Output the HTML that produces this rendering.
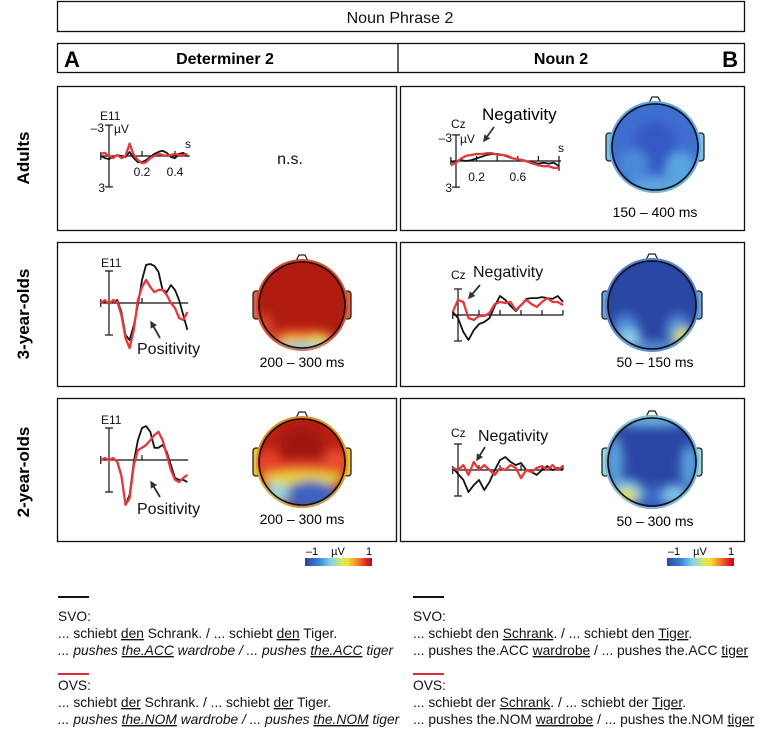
<!DOCTYPE html>
<html><head><meta charset="utf-8">
<style>
html,body{margin:0;padding:0;background:#fff;}
svg{display:block;font-family:"Liberation Sans",sans-serif;}
.t{font-size:12px;fill:#111;}
.big{font-size:16px;fill:#111;}
.leg{font-size:13.8px;fill:#111;}
</style></head>
<body>
<svg id="fig" width="759" height="730" viewBox="0 0 759 730" xmlns="http://www.w3.org/2000/svg">
<defs>
<linearGradient id="cbar" x1="0" x2="1" y1="0" y2="0">
<stop offset="0" stop-color="#2a45a0"/><stop offset="0.2" stop-color="#3b7fd6"/><stop offset="0.38" stop-color="#80d2ee"/><stop offset="0.55" stop-color="#dbe860"/><stop offset="0.65" stop-color="#f6dc2c"/><stop offset="0.8" stop-color="#f07a2c"/><stop offset="0.92" stop-color="#e02222"/><stop offset="1" stop-color="#b81010"/>
</linearGradient>
<filter id="blur" x="-50%" y="-50%" width="200%" height="200%"><feGaussianBlur stdDeviation="5"/></filter>
<marker id="ah" viewBox="0 0 10 10" refX="8" refY="5" markerWidth="4" markerHeight="4" orient="auto"><path d="M0,0 L10,5 L0,10 z" fill="#333"/></marker>
</defs>

<rect x="57.5" y="1.5" width="687" height="30" fill="none" stroke="#111" stroke-width="1.3"/>
<text x="400" y="23" text-anchor="middle" class="big">Noun Phrase 2</text>
<rect x="57.5" y="43.5" width="687" height="29" fill="none" stroke="#111" stroke-width="1.3"/>
<line x1="398" y1="43.5" x2="398" y2="72.5" stroke="#111" stroke-width="1.3"/>
<text x="64" y="67" style="font-size:22px;font-weight:bold">A</text>
<text x="225" y="64" text-anchor="middle" style="font-size:16px;font-weight:bold">Determiner 2</text>
<text x="561" y="64" text-anchor="middle" style="font-size:16px;font-weight:bold">Noun 2</text>
<text x="738" y="67" text-anchor="end" style="font-size:22px;font-weight:bold">B</text>

<rect x="57.5" y="86.5" width="339" height="144" fill="none" stroke="#111" stroke-width="1.3"/>
<rect x="400.5" y="86.5" width="344" height="144" fill="none" stroke="#111" stroke-width="1.3"/>
<rect x="57.5" y="242.5" width="339" height="144" fill="none" stroke="#111" stroke-width="1.3"/>
<rect x="400.5" y="242.5" width="344" height="144" fill="none" stroke="#111" stroke-width="1.3"/>
<rect x="57.5" y="398.5" width="339" height="143" fill="none" stroke="#111" stroke-width="1.3"/>
<rect x="400.5" y="398.5" width="344" height="143" fill="none" stroke="#111" stroke-width="1.3"/>

<text transform="translate(29,158) rotate(-90)" text-anchor="middle" style="font-size:17px;font-weight:bold">Adults</text>
<text transform="translate(29,314) rotate(-90)" text-anchor="middle" style="font-size:17px;font-weight:bold">3-year-olds</text>
<text transform="translate(29,472) rotate(-90)" text-anchor="middle" style="font-size:17px;font-weight:bold">2-year-olds</text>

<text x="290" y="164" text-anchor="middle" class="big">n.s.</text>

<g id="charts"></g>
<g id="maps"></g>

<text x="137" y="354" class="big">Positivity</text>
<line x1="160" y1="338" x2="151" y2="322" stroke="#333" stroke-width="1.8" marker-end="url(#ah)"/>
<text x="137" y="514" class="big">Positivity</text>
<line x1="160" y1="497" x2="151" y2="482" stroke="#333" stroke-width="1.8" marker-end="url(#ah)"/>
<text x="482" y="120" style="font-size:17px">Negativity</text>
<line x1="494" y1="127" x2="484" y2="141" stroke="#333" stroke-width="1.8" marker-end="url(#ah)"/>
<text x="473" y="277" class="big">Negativity</text>
<line x1="480" y1="285" x2="469" y2="298" stroke="#333" stroke-width="1.8" marker-end="url(#ah)"/>
<text x="478" y="441" class="big">Negativity</text>
<line x1="485" y1="447" x2="477" y2="460" stroke="#333" stroke-width="1.8" marker-end="url(#ah)"/>

<text x="302" y="367" text-anchor="middle" style="font-size:14px">200 – 300 ms</text>
<text x="302" y="524" text-anchor="middle" style="font-size:14px">200 – 300 ms</text>
<text x="655" y="217" text-anchor="middle" style="font-size:14px">150 – 400 ms</text>
<text x="655" y="367" text-anchor="middle" style="font-size:14px">50 – 150 ms</text>
<text x="655" y="526" text-anchor="middle" style="font-size:14px">50 – 300 ms</text>

<g>
<rect x="305" y="558" width="67" height="8" fill="url(#cbar)"/>
<text x="312" y="555" text-anchor="middle" style="font-size:11px">–1</text>
<text x="338" y="555" text-anchor="middle" style="font-size:11px">µV</text>
<text x="369" y="555" text-anchor="middle" style="font-size:11px">1</text>
</g>
<g>
<rect x="667" y="558" width="67" height="8" fill="url(#cbar)"/>
<text x="674" y="555" text-anchor="middle" style="font-size:11px">–1</text>
<text x="700" y="555" text-anchor="middle" style="font-size:11px">µV</text>
<text x="731" y="555" text-anchor="middle" style="font-size:11px">1</text>
</g>

<g>
<line x1="58" y1="597" x2="89" y2="597" stroke="#111" stroke-width="2"/>
<text x="58" y="621" class="leg">SVO:</text>
<text x="58" y="638" class="leg">... schiebt <tspan text-decoration="underline">den</tspan> Schrank. / ... schiebt <tspan text-decoration="underline">den</tspan> Tiger.</text>
<text x="58" y="655" class="leg" font-style="italic">... pushes <tspan text-decoration="underline">the.ACC</tspan> wardrobe / ... pushes <tspan text-decoration="underline">the.ACC</tspan> tiger</text>
<line x1="58" y1="674" x2="89" y2="674" stroke="#e0283a" stroke-width="2"/>
<text x="58" y="690" class="leg">OVS:</text>
<text x="58" y="707" class="leg">... schiebt <tspan text-decoration="underline">der</tspan> Schrank. / ... schiebt <tspan text-decoration="underline">der</tspan> Tiger.</text>
<text x="58" y="724" class="leg" font-style="italic">... pushes <tspan text-decoration="underline">the.NOM</tspan> wardrobe / ... pushes <tspan text-decoration="underline">the.NOM</tspan> tiger</text>
</g>
<g>
<line x1="413" y1="597" x2="444" y2="597" stroke="#111" stroke-width="2"/>
<text x="413" y="621" class="leg">SVO:</text>
<text x="413" y="638" class="leg">... schiebt den <tspan text-decoration="underline">Schrank</tspan>. / ... schiebt den <tspan text-decoration="underline">Tiger</tspan>.</text>
<text x="413" y="655" class="leg">... pushes the.ACC <tspan text-decoration="underline">wardrobe</tspan> / ... pushes the.ACC <tspan text-decoration="underline">tiger</tspan></text>
<line x1="413" y1="674" x2="444" y2="674" stroke="#e0283a" stroke-width="2"/>
<text x="413" y="690" class="leg">OVS:</text>
<text x="413" y="707" class="leg">... schiebt der <tspan text-decoration="underline">Schrank</tspan>. / ... schiebt der <tspan text-decoration="underline">Tiger</tspan>.</text>
<text x="413" y="724" class="leg">... pushes the.NOM <tspan text-decoration="underline">wardrobe</tspan> / ... pushes the.NOM <tspan text-decoration="underline">tiger</tspan></text>
</g>
</svg>

<script>
const timesDet = [-0.05,-0.025,0,0.025,0.05,0.075,0.1,0.125,0.15,0.175,0.2,0.225,0.25,0.275,0.3,0.325,0.35,0.375,0.4,0.425,0.45,0.475];
const timesNoun = [-0.05,0,0.05,0.1,0.15,0.2,0.25,0.3,0.35,0.4,0.45,0.5,0.55,0.6,0.65,0.7,0.75,0.8,0.85,0.9,0.95,1.0];
const adultsDetSVO = [0,0.2,0.3,0.1,-0.1,0,0.1,-0.4,0.2,0.6,0.6,0.4,0.1,-0.2,-0.4,-0.5,-0.3,0.1,0.2,-0.2,-0.3,0];
const adultsDetOVS = [-0.2,-0.3,0,0.2,-0.1,0.2,0,-1.2,-0.1,0.4,0.7,0.6,0.2,0,-0.2,-0.1,0,-0.1,-0.2,-0.1,-0.1,-0.2];
const y3DetSVO = [0,-0.3,0.3,-0.6,-0.9,2.8,10,11.6,6.9,0.6,-7.2,-11.9,-12.2,-11.6,-9.7,-4.1,-3.4,-5.6,-4.1,-0.9,3.8,8.4];
const y3DetOVS = [0,-0.9,0.3,-0.9,-0.3,3.8,10.9,14.1,8.4,-0.9,-5,-7.2,-5,-3.4,-4.1,-4.1,-2.5,0,1.6,4.7,5.3,2.8];
const y2DetSVO = [0,-0.6,0,-0.6,0.6,4.7,14,10.9,0.6,-6.2,-10,-10.6,-8.8,-3.8,-3.8,-4.7,-2.5,1.6,5.6,6.2,6.2,6.9];
const y2DetOVS = [0,-0.6,0,-0.6,0.6,5,14,11.9,1.6,-3.1,-3.8,-4.7,-6.2,-7.8,-8.8,-6.2,-1.6,3.1,6.2,6.9,5.6,4.7];
const adultsNounSVO = [0.1,0.1,-0.1,0,-0.1,-0.3,-0.5,-0.7,-0.8,-0.8,-0.7,-0.5,-0.3,-0.2,-0.1,0.1,0.2,0.3,0.2,0.3,0.2,0.6];
const adultsNounOVS = [0.5,0.2,-0.3,-0.6,-0.7,-0.8,-0.8,-0.9,-0.9,-0.7,-0.7,-0.6,-0.3,-0.2,-0.1,0.1,0.3,0.5,0.6,0.6,0.8,0.8];
const y3NounSVO = [-1.2,1.2,6.5,9.6,5.8,3.5,2.7,1.2,-3.5,-7.3,-5.8,-3.5,-1.5,-3.8,-6.2,-6.5,-6.5,-6.9,-6.5,-6.2,-7.3,-5];
const y3NounOVS = [-1.2,-5.8,-5,1.2,1.9,0.4,0.4,-0.8,-4.2,-5,-4.6,-5,-1.9,-3.8,-5.8,-4.2,-3.1,-5,-6.5,-5,-5,-3.8];
const y2NounSVO = [-0.8,1.5,3.8,8.5,5.8,3.8,7.7,4.6,0,-3.8,-5,-3.1,-1.9,-2.7,0,0.8,1.9,0,-1.5,0,-0.8,0];
const y2NounOVS = [-0.8,0,-1.9,1.9,-3.1,0,-1.9,0,1.9,-0.8,0,-1.9,-0.8,3.1,0,0.8,-0.8,-1.5,0,-1.9,0,-1.5];
const tickDet = [0.2,0.4];
const tickNoun = [0.2,0.4,0.6,0.8,1.0];
const tickLabelsAdultsDet = ["0.2","0.4"];
const tickLabelsAdultsNoun = ["0.2","0.6"];

const NS='http://www.w3.org/2000/svg';
function mk(tag, attrs, parent){const e=document.createElementNS(NS,tag);for(const k in attrs)e.setAttribute(k,attrs[k]);parent.appendChild(e);return e;}
const charts=document.getElementById('charts');

function chart(cfg){
  const g=mk('g',{},charts);
  
  
  const xs=t=>cfg.x0+cfg.pxs*t;
  const ys=v=>cfg.y0+cfg.pxv*v;
  mk('line',{x1:xs(cfg.tmin),y1:cfg.y0,x2:xs(cfg.tmax),y2:cfg.y0,stroke:'#111','stroke-width':1.2},g);
  mk('line',{x1:cfg.x0,y1:ys(-cfg.vbar),x2:cfg.x0,y2:ys(cfg.vbar),stroke:'#111','stroke-width':1.2},g);
  mk('line',{x1:cfg.x0-4,y1:ys(-cfg.vbar),x2:cfg.x0+4,y2:ys(-cfg.vbar),stroke:'#111','stroke-width':1.2},g);
  mk('line',{x1:cfg.x0-4,y1:ys(cfg.vbar),x2:cfg.x0+4,y2:ys(cfg.vbar),stroke:'#111','stroke-width':1.2},g);
  mk('line',{x1:xs(cfg.tmin),y1:cfg.y0-4,x2:xs(cfg.tmin),y2:cfg.y0+4,stroke:'#111','stroke-width':1.2},g);
  cfg.ticks.forEach(t=>mk('line',{x1:xs(t),y1:cfg.y0-5,x2:xs(t),y2:cfg.y0+(cfg.downTick&&t===cfg.ticks[cfg.ticks.length-1]?10:0),stroke:'#111','stroke-width':1.2},g));
  const line=(vals,col,w,name)=>{
    const d=vals.map((v,i)=>(i?'L':'M')+xs(cfg.times[i]).toFixed(1)+','+ys(v).toFixed(1)).join(' ');
    const p=mk('path',{d:d,fill:'none',stroke:col,'stroke-width':w,'stroke-linejoin':'round'},g);
    
    
  };
  line(cfg.svo,'#111',1.8,cfg.name+'-svo-line');
  line(cfg.ovs,'#e3393d',2.3,cfg.name+'-ovs-line');
  if(cfg.labels){cfg.labels.forEach(l=>{const t=mk('text',{x:l[1],y:l[2],class:'t','text-anchor':l[3]||'start'},g);t.textContent=l[0];});}
  if(cfg.tickLabels){cfg.tickLabels.forEach((s,i)=>{const t=mk('text',{x:xs(cfg.tickLabelT[i]),y:cfg.y0+20,class:'t','text-anchor':'middle'},g);t.textContent=s;});}
}

chart({name:'erp-adults-det',x0:109,y0:156,pxs:165,pxv:10.3,vbar:3,tmin:-0.05,tmax:0.49,times:timesDet,svo:adultsDetSVO,ovs:adultsDetOVS,ticks:tickDet,
  tickLabels:tickLabelsAdultsDet,tickLabelT:tickDet,labels:[['E11',100,120],['–3',104,132,'end'],['µV',114,133],['3',105,192,'end'],['s',188,148,'middle']]});
chart({name:'erp-3yo-det',x0:109,y0:303,pxs:165,pxv:3.2,vbar:10,tmin:-0.05,tmax:0.48,times:timesDet,svo:y3DetSVO,ovs:y3DetOVS,ticks:[0.2],
  labels:[['E11',101,267]]});
chart({name:'erp-2yo-det',x0:109,y0:460,pxs:165,pxv:3.2,vbar:10,tmin:-0.05,tmax:0.48,times:timesDet,svo:y2DetSVO,ovs:y2DetOVS,ticks:[0.2],
  labels:[['E11',101,424]]});
chart({name:'erp-adults-noun',x0:456,y0:161,pxs:103,pxv:8.7,vbar:3,tmin:-0.05,tmax:1.02,times:timesNoun,svo:adultsNounSVO,ovs:adultsNounOVS,ticks:tickNoun,downTick:true,
  tickLabels:tickLabelsAdultsNoun,tickLabelT:[0.2,0.6],labels:[['Cz',451,128],['–3',452,142,'end'],['µV',460,143],['3',452,192,'end'],['s',561,152,'middle']]});
chart({name:'erp-3yo-noun',x0:458,y0:315,pxs:105,pxv:2.6,vbar:10,tmin:-0.05,tmax:1.0,times:timesNoun,svo:y3NounSVO,ovs:y3NounOVS,ticks:tickNoun,
  labels:[['Cz',451,279]]});
chart({name:'erp-2yo-noun',x0:458,y0:470,pxs:105,pxv:2.6,vbar:10,tmin:-0.05,tmax:1.0,times:timesNoun,svo:y2NounSVO,ovs:y2NounOVS,ticks:tickNoun,
  labels:[['Cz',451,437]]});

const maps=document.getElementById('maps');
let mid=0;
function topo(name,cx,cy,r,base,blobs,edge){
  const g=mk('g',{},maps);
  
  
  const id='clip'+(mid++);
  const cp=mk('clipPath',{id:id},g);
  mk('circle',{cx:cx,cy:cy,r:r+3},cp);
  mk('rect',{x:cx-r-6,y:cy-14,width:7,height:28,rx:3,fill:edge,stroke:'#222','stroke-width':1.3},g);
  mk('rect',{x:cx+r-1,y:cy-14,width:7,height:28,rx:3,fill:edge,stroke:'#222','stroke-width':1.3},g);
  mk('path',{d:`M${cx-7},${cy-r+1} L${cx-3},${cy-r-7} L${cx+3},${cy-r-7} L${cx+7},${cy-r+1}`,fill:'#fff',stroke:'#222','stroke-width':1.3},g);
  const inner=mk('g',{'clip-path':`url(#${id})`},g);
  mk('circle',{cx:cx,cy:cy,r:r+3,fill:base},inner);
  const bg=mk('g',{filter:'url(#blur)'},inner);
  blobs.forEach(b=>mk('ellipse',{cx:cx+b[0]*r,cy:cy+b[1]*r,rx:b[2]*r,ry:b[3]*r,fill:b[4]},bg));
  mk('circle',{cx:cx,cy:cy,r:r+3,fill:'none',stroke:edge,'stroke-width':4,opacity:0.7},inner);
  mk('circle',{cx:cx,cy:cy,r:r,fill:'none',stroke:'#111','stroke-width':1.6},g);
}
topo('topomap-adults-noun',655,147,43,'#3f6ed0',[[0,0,0.5,0.6,'#3558c4'],[-0.5,0.4,0.35,0.35,'#4a8ad8'],[0.6,0.5,0.35,0.4,'#5aa6e0'],[0,0.9,0.6,0.2,'#5fa8df']],'#7cc0e6');
topo('topomap-3yo-det',302,305,43,'#b01c10',[[0,0.75,0.8,0.2,'#e0402a'],[-0.2,0.85,0.35,0.15,'#f0c030'],[0.35,0.85,0.3,0.15,'#e6e050'],[0,1.05,0.7,0.15,'#7fc8e6'],[-0.85,0.5,0.15,0.3,'#e05030']],'#e06040');
topo('topomap-2yo-det',302,462,43,'#b82014',[[0,-0.3,0.5,0.55,'#a01810'],[-0.8,0,0.3,0.3,'#e6402c'],[0.8,0,0.3,0.3,'#e85030'],[0,0.15,1,0.17,'#e94a2a'],[0,0.4,1,0.18,'#e6d83a'],[0.2,0.78,0.6,0.35,'#3e62c0'],[-0.6,0.75,0.3,0.25,'#9ad6e0']],'#f0c030');
topo('topomap-3yo-noun',652,305,44,'#2a46a4',[[-0.6,0.55,0.3,0.35,'#4d8ad6'],[0.6,0.55,0.3,0.35,'#4d8ad6'],[-0.5,0.75,0.25,0.2,'#8fd3ea'],[0.7,0.72,0.22,0.2,'#d6e060'],[0,0.95,0.6,0.12,'#5f9ad8']],'#6aa0e0');
topo('topomap-2yo-noun',652,462,44,'#2a46a4',[[0,-0.95,0.9,0.15,'#6ab8e2'],[-0.85,0,0.2,0.6,'#5aa0dc'],[0.85,0.1,0.2,0.5,'#5aa0dc'],[-0.55,0.7,0.35,0.3,'#80c8e6'],[-0.6,0.78,0.25,0.17,'#e6e040'],[0.5,0.75,0.3,0.25,'#7cc0e6'],[0,0.8,0.2,0.3,'#3a66c8']],'#9ad6e0');
</script>
</body></html>
